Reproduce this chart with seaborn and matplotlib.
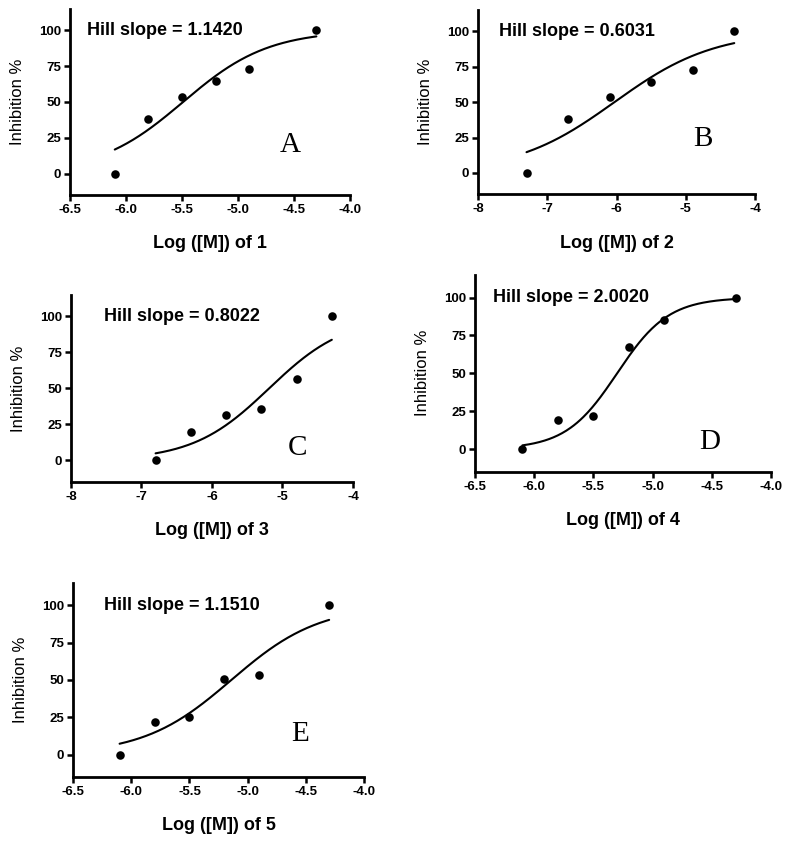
"""
Dose-response panels (A-E): % inhibition vs log concentration with Hill fits.
"""

import matplotlib
import matplotlib.pyplot as plt
import numpy as np
import pandas as pd
import seaborn as sns

matplotlib.use("Agg")

# --- data ---
log_dose_1 = [-6.1, -5.8, -5.5, -5.2, -4.9, -4.3]
inhib_1 = [0, 38, 53.5, 64.5, 73, 100]

log_dose_2 = [-7.3, -6.7, -6.1, -5.5, -4.9, -4.3]
inhib_2 = [0, 38, 53.5, 64.5, 73, 100]

log_dose_3 = [-6.8, -6.3, -5.8, -5.3, -4.8, -4.3]
inhib_3 = [0, 19.5, 31.5, 36, 56.5, 100]

log_dose_4 = [-6.1, -5.8, -5.5, -5.2, -4.9, -4.3]
inhib_4 = [0, 19, 22, 67.5, 85, 100]

log_dose_5 = [-6.1, -5.8, -5.5, -5.2, -4.9, -4.3]
inhib_5 = [0, 22, 25, 50.5, 53, 100]

# fitted Hill parameters (slope printed on each panel, logIC50)
hill_slopes = [1.1420, 0.6031, 0.8022, 2.0020, 1.1510]
log_ic50s = [-5.49, -6.03, -5.19, -5.30, -5.14]
fit_bottom = 0.0
fit_top = 100.0

compound_ids = ["1", "2", "3", "4", "5"]
panel_letters = ["A", "B", "C", "D", "E"]

xticks_fine = [-6.5, -6.0, -5.5, -5.0, -4.5, -4.0]
xticks_coarse = [-8, -7, -6, -5, -4]
yticks = [0, 25, 50, 75, 100]


def hill(x, log_ic50, slope):
    return fit_bottom + (fit_top - fit_bottom) / (1 + 10 ** ((log_ic50 - x) * slope))


sns.set_theme(style="ticks")
plt.rcParams["font.family"] = ["Liberation Sans", "DejaVu Sans"]
plt.rcParams["axes.unicode_minus"] = False
plt.rcParams["text.color"] = "black"
plt.rcParams["axes.labelcolor"] = "black"
plt.rcParams["xtick.color"] = "black"
plt.rcParams["ytick.color"] = "black"

fig = plt.figure(figsize=(7.87, 8.44), dpi=100)

# axes rectangles in figure fractions (left, bottom, width, height)
rects = [
    (0.0889, 0.769, 0.3558, 0.2204),
    (0.6074, 0.770, 0.3520, 0.2180),
    (0.0902, 0.429, 0.3583, 0.2216),
    (0.6036, 0.441, 0.3761, 0.2334),
    (0.0928, 0.0794, 0.3698, 0.2299),
]
# panel letter / Hill label positions in axes fractions
letter_pos = [(0.788, 0.269), (0.8125, 0.297), (0.8025, 0.179), (0.792, 0.149), (0.780, 0.223)]
hill_pos = [(0.060, 0.885), (0.0775, 0.885), (0.1175, 0.885), (0.060, 0.885), (0.108, 0.885)]

datasets = [
    (log_dose_1, inhib_1, xticks_fine),
    (log_dose_2, inhib_2, xticks_coarse),
    (log_dose_3, inhib_3, xticks_coarse),
    (log_dose_4, inhib_4, xticks_fine),
    (log_dose_5, inhib_5, xticks_fine),
]

for idx, (xs, ys, xt) in enumerate(datasets):
    ax = fig.add_axes(rects[idx])
    df = pd.DataFrame({"log_dose": xs, "inhibition": ys})

    xfit = np.linspace(min(xs), max(xs), 200)
    fit_df = pd.DataFrame({"log_dose": xfit,
                           "inhibition": hill(xfit, log_ic50s[idx], hill_slopes[idx])})

    sns.lineplot(data=fit_df, x="log_dose", y="inhibition", ax=ax,
                 color="black", linewidth=1.5)
    sns.scatterplot(data=df, x="log_dose", y="inhibition", ax=ax,
                    color="black", s=38, linewidth=0, zorder=3, clip_on=False)

    ax.set_xlim(xt[0], xt[-1])
    ax.set_ylim(-15, 115)
    ax.set_xticks(xt)
    if xt is xticks_fine:
        ax.set_xticklabels([f"{v:.1f}" for v in xt])
    else:
        ax.set_xticklabels([f"{v:d}" for v in xt])
    ax.set_yticks(yticks)

    sns.despine(ax=ax)
    for side in ("left", "bottom"):
        ax.spines[side].set_linewidth(2.0)
        ax.spines[side].set_color("black")
    ax.tick_params(axis="both", direction="out", length=4.5, width=1.8,
                   color="black", labelcolor="black", labelsize=9.5, pad=2)
    for lab in ax.get_xticklabels() + ax.get_yticklabels():
        lab.set_fontweight("bold")

    ax.set_xlabel(f"Log ([M]) of {compound_ids[idx]}", fontsize=13,
                  fontweight="bold", labelpad=14)
    ax.set_ylabel("Inhibition %", fontsize=12, labelpad=10)

    ax.text(*hill_pos[idx], f"Hill slope = {hill_slopes[idx]:.4f}",
            transform=ax.transAxes, fontsize=13, fontweight="bold",
            ha="left", va="center")
    ax.text(*letter_pos[idx], panel_letters[idx], transform=ax.transAxes,
            fontsize=21, family=["Liberation Serif", "DejaVu Serif"],
            ha="center", va="center")

fig.savefig("out.png", dpi=100)
